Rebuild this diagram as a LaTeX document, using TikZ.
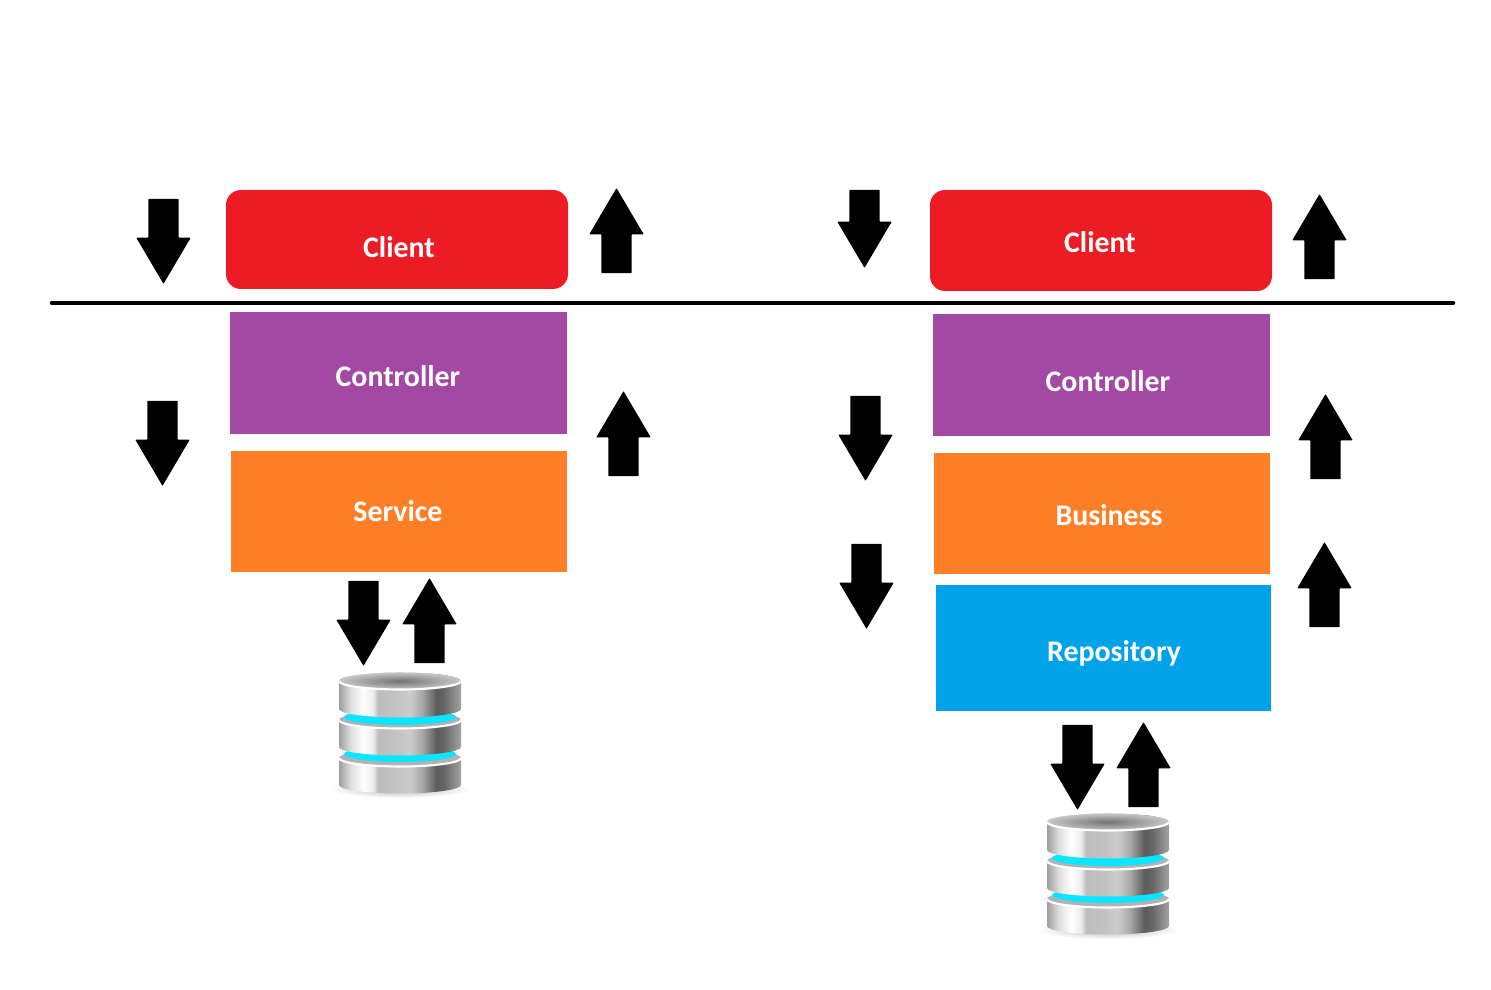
\documentclass[tikz,border=0pt]{standalone}
\usepackage{fontspec}
\setmainfont{Carlito}
\usetikzlibrary{shapes.arrows}

\pgfdeclarehorizontalshading{diskside}{100bp}{
  rgb(0bp)=(.62,.62,.62); rgb(25bp)=(.62,.62,.62); rgb(30bp)=(.88,.88,.88); rgb(35bp)=(1,1,1);
  rgb(39bp)=(.92,.92,.92); rgb(41bp)=(.74,.74,.74); rgb(48bp)=(.76,.76,.76);
  rgb(54bp)=(.8,.8,.8); rgb(59bp)=(.66,.66,.66); rgb(65bp)=(.36,.36,.36);
  rgb(68bp)=(.4,.4,.4); rgb(75bp)=(.64,.64,.64); rgb(100bp)=(.64,.64,.64)}

\definecolor{clientred}{RGB}{237,28,36}
\definecolor{ctrlpurple}{RGB}{163,73,164}
\definecolor{servorange}{RGB}{255,127,39}
\definecolor{repoblue}{RGB}{0,162,232}
\definecolor{dbcyan}{RGB}{10,230,255}

\tikzset{
  box/.style={minimum width=3.37cm, minimum height=1.22cm, outer sep=0pt, inner sep=0pt},
  boxtext/.style={text=white, font=\fontsize{8.5}{10}\selectfont\bfseries},
  downarrow/.style={shape=single arrow, fill=black, inner xsep=0pt, inner ysep=0.145cm, rotate=-90,
    minimum height=0.85cm, minimum width=0.53cm, single arrow head extend=0.12cm,
    single arrow tip angle=61, rounded corners=0.2pt},
  uparrow/.style={downarrow, rotate=180}
}

% one grey disk of the database: top edge, bottom edge
\newcommand{\dbdisk}[2]{
  \shade[shading=diskside] (-0.61,#1) -- (-0.61,#2) arc (180:360:0.61 and 0.085)
    -- (0.61,#1) arc (0:180:0.61 and 0.085) -- cycle;
}
\newcommand{\dbstack}[1]{
  \begin{scope}[shift={(#1)}]
  \shade[inner color=black!30, outer color=white] (0,-1.08) ellipse (0.7 and 0.09);
  \dbdisk{-0.77}{-1.04}
  \fill[black!30] (0,-0.77) ellipse (0.61 and 0.085);
  \draw[white, line width=0.6pt] (-0.61,-0.77) arc (180:360:0.61 and 0.085);
  \fill[dbcyan] (0,-0.73) ellipse (0.56 and 0.08);
  \dbdisk{-0.39}{-0.66}
  \fill[black!30] (0,-0.39) ellipse (0.61 and 0.085);
  \draw[white, line width=0.6pt] (-0.61,-0.39) arc (180:360:0.61 and 0.085);
  \fill[dbcyan] (0,-0.36) ellipse (0.56 and 0.08);
  \dbdisk{0}{-0.28}
  \shade[inner color=black!55, outer color=black!22] (0,0) ellipse (0.61 and 0.085);
  \draw[white, line width=0.6pt] (-0.61,0) arc (180:360:0.61 and 0.085);
  \end{scope}
}

\begin{document}
\begin{tikzpicture}
\useasboundingbox (0,0) rectangle (14.91,9.9);

% left stack
\node[box, fill=clientred, minimum width=3.42cm, minimum height=0.99cm, rounded corners=0.15cm] (clientA) at (3.97,7.505) {};
\node[box, fill=ctrlpurple] (controllerA) at (3.985,6.17) {};
\node[box, fill=servorange, minimum width=3.36cm, minimum height=1.21cm] (serviceA) at (3.99,4.785) {};

\node[boxtext] (clientAtext) at (3.99,7.43) {Client};
\node[boxtext] (controllerAtext) at (3.98,6.14) {Controller};
\node[boxtext] (serviceAtext) at (3.98,4.79) {Service};

% right stack
\node[box, fill=clientred, minimum width=3.42cm, minimum height=1.01cm, rounded corners=0.15cm] (clientB) at (11.01,7.495) {};
\node[box, fill=ctrlpurple] (controllerB) at (11.015,6.15) {};
\node[box, fill=servorange, minimum width=3.36cm, minimum height=1.21cm] (businessB) at (11.02,4.765) {};
\node[box, fill=repoblue, minimum width=3.35cm, minimum height=1.26cm] (repoB) at (11.035,3.42) {};

\node[boxtext] (clientBtext) at (11.00,7.48) {Client};
\node[boxtext] (controllerBtext) at (11.08,6.09) {Controller};
\node[boxtext] (businessBtext) at (11.09,4.75) {Business};
\node[boxtext] (repoBtext) at (11.14,3.37) {Repository};

% arrows
\node[downarrow] (downA) at (1.635,7.615) {};
\node[uparrow] (upA) at (6.165,7.465) {};
\node[downarrow] (downB) at (1.625,5.595) {};
\node[uparrow] (upB) at (6.235,5.435) {};
\node[downarrow] (downC) at (3.635,3.795) {};
\node[uparrow] (upC) at (4.295,3.565) {};

\node[downarrow, minimum height=0.78cm] (downD) at (8.645,7.74) {};
\node[uparrow] (upD) at (13.195,7.405) {};
\node[downarrow] (downE) at (8.655,5.645) {};
\node[uparrow] (upE) at (13.255,5.405) {};
\node[downarrow] (downF) at (8.665,4.165) {};
\node[uparrow] (upF) at (13.245,3.925) {};
\node[downarrow] (downG) at (10.775,2.355) {};
\node[uparrow] (upG) at (11.435,2.125) {};

% separator
\coordinate (ruleL) at (0.52,6.87);
\coordinate (ruleR) at (14.53,6.87);
\draw[line width=1.3pt, line cap=round] (ruleL) -- (ruleR);

% databases
\dbstack{4.00,3.09}
\dbstack{11.08,1.68}
\end{tikzpicture}
\end{document}
